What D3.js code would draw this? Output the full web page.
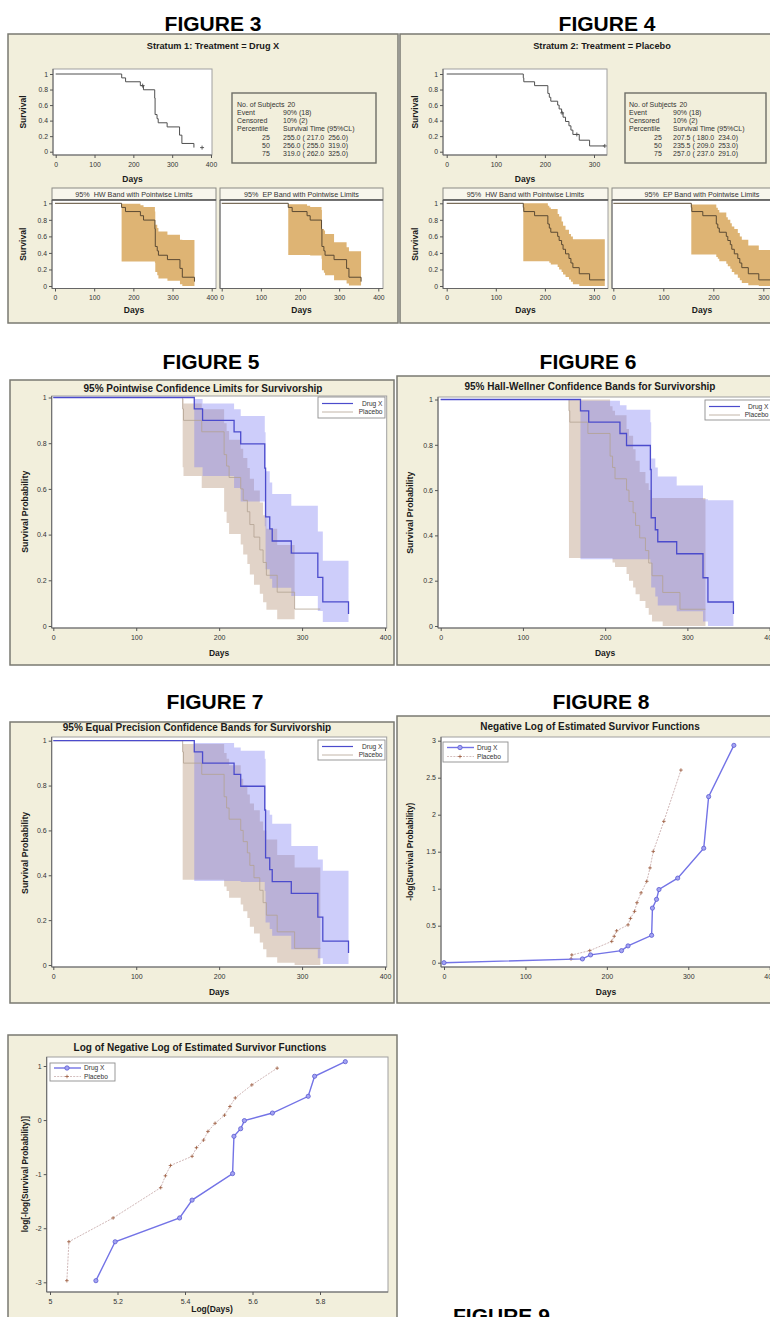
<!DOCTYPE html>
<html><head><meta charset="utf-8"><title>Survival figures</title>
<script src="https://cdn.jsdelivr.net/npm/d3@7/dist/d3.min.js"></script>
<style>html,body{margin:0;padding:0;background:#fff;overflow:hidden}svg{display:block}</style>
</head><body>
<svg id="chart" width="770" height="1317" viewBox="0 0 770 1317"></svg>
<script>
// ================= DATA =================
const daysTicks400 = [0, 100, 200, 300, 400];
const daysTicks300 = [0, 100, 200, 300];
const survTicks = [0, 0.2, 0.4, 0.6, 0.8, 1];
const negLogTicks = [0, 0.5, 1, 1.5, 2, 2.5, 3];
const logDaysTicks = [5, 5.2, 5.4, 5.6, 5.8];
const logNegLogTicks = [-3, -2, -1, 0, 1];
const groups = ["Drug X", "Placebo"];

// Kaplan-Meier estimates
const drugTimes = [0, 170, 180, 218, 226, 255, 256, 261, 264, 287, 319, 325, 356];
const drugSurv  = [1, 0.95, 0.90, 0.85, 0.797, 0.691, 0.478, 0.425, 0.372, 0.319, 0.213, 0.106, 0.053];
const drugCensored = [[224, 0.85], [377, 0.053]];
const placTimes = [0, 156, 157, 179, 206, 209, 212, 226, 229, 234, 237, 242, 249, 253, 257, 270, 291, 322];
const placSurv  = [1, 0.95, 0.90, 0.85, 0.75, 0.70, 0.65, 0.60, 0.55, 0.50, 0.444, 0.389, 0.333, 0.278, 0.222, 0.148, 0.074, 0.074];
const placCensored = [[235, 0.50], [265, 0.222], [322, 0.074]];

// confidence limits: [day, lower, upper] (step after; last row closes the band)
const drugPointwise = [[170,0.695,0.993],[180,0.656,0.974],[218,0.604,0.949],[226,0.545,0.919],[255,0.436,0.848],[256,0.248,0.677],[261,0.207,0.628],[264,0.167,0.578],[287,0.131,0.526],[319,0.066,0.414],[325,0.018,0.286],[356,0.018,0.286]];
const placPointwise = [[156,0.695,0.993],[157,0.656,0.974],[179,0.604,0.949],[206,0.500,0.887],[209,0.451,0.853],[212,0.403,0.815],[226,0.357,0.776],[229,0.313,0.735],[234,0.271,0.692],[237,0.225,0.644],[242,0.181,0.593],[249,0.141,0.540],[253,0.104,0.485],[257,0.071,0.426],[270,0.030,0.355],[291,0.030,0.355]];
const drugHallWellner = [[170,0.295,0.995],[218,0.295,0.975],[226,0.295,0.955],[255,0.28,0.90],[256,0.17,0.74],[261,0.13,0.70],[264,0.09,0.66],[287,0.065,0.62],[319,0.02,0.56],[325,0,0.555],[356,0,0.555]];
const placHallWellner = [[156,0.30,1.0],[206,0.30,0.97],[209,0.28,0.95],[212,0.26,0.93],[226,0.23,0.87],[229,0.20,0.84],[234,0.17,0.78],[237,0.14,0.73],[242,0.11,0.68],[249,0.08,0.63],[253,0.05,0.60],[257,0.02,0.565],[270,0,0.565],[322,0,0.565]];
const drugEqualPrec = [[170,0.375,0.99],[218,0.375,0.97],[226,0.37,0.955],[255,0.33,0.92],[256,0.19,0.69],[261,0.16,0.67],[264,0.13,0.63],[287,0.07,0.53],[319,0.03,0.47],[325,0.005,0.42],[356,0.005,0.42]];
const placEqualPrec = [[156,0.38,0.985],[206,0.35,0.945],[209,0.33,0.92],[212,0.30,0.89],[226,0.27,0.83],[229,0.24,0.80],[234,0.21,0.76],[237,0.17,0.72],[242,0.14,0.69],[249,0.10,0.64],[253,0.07,0.60],[257,0.035,0.56],[270,0.01,0.49],[291,0,0.435],[322,0,0.435]];

// -log S(t)
const drugNegLog = [0, 0.051, 0.105, 0.163, 0.227, 0.370, 0.738, 0.856, 0.989, 1.143, 1.547, 2.244, 2.937];
const placNegLogDays = [156, 157, 179, 206, 209, 212, 226, 229, 234, 237, 242, 249, 253, 257, 270, 291];
const placNegLog = [0.051, 0.105, 0.163, 0.288, 0.357, 0.431, 0.511, 0.598, 0.693, 0.811, 0.944, 1.099, 1.281, 1.504, 1.910, 2.603];

// log(-log S(t)) vs log(t)
const drugLogDays = [5.136, 5.193, 5.384, 5.421, 5.541, 5.545, 5.565, 5.576, 5.659, 5.765, 5.784, 5.875];
const drugLogNegLog = [-2.97, -2.25, -1.81, -1.48, -0.99, -0.30, -0.16, -0.01, 0.13, 0.44, 0.81, 1.08];
const placLogDays = [5.050, 5.056, 5.187, 5.328, 5.342, 5.357, 5.421, 5.434, 5.455, 5.468, 5.489, 5.517, 5.533, 5.549, 5.598, 5.673];
const placLogNegLog = [-2.97, -2.25, -1.81, -1.25, -1.03, -0.84, -0.67, -0.51, -0.37, -0.21, -0.06, 0.09, 0.25, 0.41, 0.65, 0.96];

// summary tables
const stratum1Stats = [["No. of Subjects", "20"], ["Event", "90% (18)"], ["Censored", "10% (2)"], ["Percentile", "Survival Time (95%CL)"], ["25", "255.0 ( 217.0  256.0)"], ["50", "256.0 ( 255.0  319.0)"], ["75", "319.0 ( 262.0  325.0)"]];
const stratum2Stats = [["No. of Subjects", "20"], ["Event", "90% (18)"], ["Censored", "10% (2)"], ["Percentile", "Survival Time (95%CL)"], ["25", "207.5 ( 180.0  234.0)"], ["50", "235.5 ( 209.0  253.0)"], ["75", "257.0 ( 237.0  291.0)"]];

// ================= RENDER =================
const svg = d3.select('#chart');
const FONT = '"Liberation Sans", Arial, Helvetica, sans-serif';
const BG = '#f2efdc';
const fmt = d => String(d);

function T(g, x, y, s, size, o = {}) {
  const t = g.append('text').attr('x', x).attr('y', y).text(s)
    .attr('font-family', FONT).attr('font-size', size)
    .attr('font-weight', o.bold ? 'bold' : 'normal')
    .attr('text-anchor', o.anchor || 'middle')
    .attr('fill', o.fill || '#1a1a1a');
  if (o.rotate) t.attr('transform', `rotate(-90 ${x} ${y})`);
  if (o.pre) t.style('white-space', 'pre');
  return t;
}
function panel(p) {
  svg.append('rect').attr('x', p[0]).attr('y', p[1]).attr('width', p[2]).attr('height', p[3])
    .attr('fill', BG).attr('stroke', '#7a7a72').attr('stroke-width', 1.5);
}
function frame(g, b) {
  g.append('rect').attr('x', b.x0).attr('y', b.y0).attr('width', b.x1 - b.x0).attr('height', b.y1 - b.y0)
    .attr('fill', '#fff').attr('stroke', '#a0a0a0').attr('stroke-width', 1);
  g.append('path').attr('d', `M${b.x0},${b.y0}V${b.y1}H${b.x1}`).attr('fill', 'none').attr('stroke', '#666').attr('stroke-width', 1);
}
function styleAxis(ga, size) {
  ga.attr('font-family', FONT).attr('font-size', size || 7);
  ga.select('.domain').remove();
  ga.selectAll('.tick line').attr('stroke', '#555');
  ga.selectAll('.tick text').attr('fill', '#333');
}
function axisX(g, xs, y, ticks, size) {
  const a = d3.axisBottom(xs).tickValues(ticks).tickSizeInner(3).tickSizeOuter(0).tickPadding(4).tickFormat(fmt);
  styleAxis(g.append('g').attr('transform', `translate(0,${y})`).call(a), size);
}
function axisY(g, ys, x, ticks, size) {
  const a = d3.axisLeft(ys).tickValues(ticks).tickSizeInner(3).tickSizeOuter(0).tickPadding(2).tickFormat(fmt);
  styleAxis(g.append('g').attr('transform', `translate(${x},0)`).call(a), size);
}
function kmLine(g, xs, ys, times, vals, color, w) {
  const pts = times.map((t, i) => [t, vals[i]]);
  g.append('path').datum(pts)
    .attr('d', d3.line().x(d => xs(d[0])).y(d => ys(d[1])).curve(d3.curveStepAfter))
    .attr('fill', 'none').attr('stroke', color).attr('stroke-width', w);
}
function bandArea(g, xs, ys, rows, fill, op) {
  g.append('path').datum(rows)
    .attr('d', d3.area().x(d => xs(d[0])).y0(d => ys(d[1])).y1(d => ys(d[2])).curve(d3.curveStepAfter))
    .attr('fill', fill).attr('fill-opacity', op);
}
function plusMarks(g, pts, color, s, w) {
  pts.forEach(p => {
    g.append('path').attr('d', `M${p[0] - s},${p[1]}H${p[0] + s}M${p[0]},${p[1] - s}V${p[1] + s}`)
      .attr('stroke', color).attr('stroke-width', w || 0.9).attr('fill', 'none');
  });
}
function polyLine(g, pts, color, w, dash) {
  const p = g.append('path').datum(pts).attr('d', d3.line().x(d => d[0]).y(d => d[1]))
    .attr('fill', 'none').attr('stroke', color).attr('stroke-width', w);
  if (dash) p.attr('stroke-dasharray', dash);
}

// ---------- Figures 3 & 4 ----------
function strataFigure(c, times, surv, cens, hw, ep, stats) {
  panel(c.panel);
  T(svg, c.label[0], c.label[1], c.labelText, 21, { bold: true, fill: '#000' });
  T(svg, c.sub[0], c.sub[1], c.subText, 9.2, { bold: true });
  const tp = c.top;
  const xs = d3.scaleLinear().domain(c.xDomain).range(tp.xr);
  const ys = d3.scaleLinear().domain([0, 1]).range(tp.yr);
  frame(svg, tp);
  axisX(svg, xs, tp.y1, c.xTicks, 6.8);
  axisY(svg, ys, tp.x0, survTicks, 6.8);
  kmLine(svg, xs, ys, times, surv, '#505050', 1);
  plusMarks(svg, cens.map(p => [xs(p[0]), ys(p[1])]), '#505050', 2, 0.9);
  T(svg, (tp.x0 + tp.x1) / 2, c.topDaysY, 'Days', 8.5, { bold: true });
  T(svg, c.ylabX, (tp.y0 + tp.y1) / 2, 'Survival', 8.5, { bold: true, rotate: true });
  // inset table
  const ib = c.inset;
  svg.append('rect').attr('x', ib.x0).attr('y', ib.y0).attr('width', ib.x1 - ib.x0).attr('height', ib.y1 - ib.y0)
    .attr('fill', BG).attr('stroke', '#6e6e66').attr('stroke-width', 1.4);
  stats.forEach((r, i) => {
    const y = ib.row0 + i * ib.dy;
    let lab;
    if (i < 4) lab = T(svg, ib.c1, y, r[0], 7, { anchor: 'start', fill: '#333' });
    else lab = T(svg, ib.cn, y, r[0], 7, { anchor: 'middle', fill: '#333' });
    let vx = ib.c2;
    if (i === 0) vx = ib.c1 + lab.node().getComputedTextLength() + 3;
    T(svg, vx, y, r[1], 7, { anchor: 'start', fill: '#333', pre: true });
  });
  // lower cells
  const cellBands = [hw, ep];
  const heads = ['95%  HW Band with Pointwise Limits', '95%  EP Band with Pointwise Limits'];
  c.cells.forEach((cell, i) => {
    svg.append('rect').attr('x', cell.x0).attr('y', c.headY0).attr('width', cell.x1 - cell.x0).attr('height', c.plotY0 - c.headY0)
      .attr('fill', '#f8f6ec').attr('stroke', '#8a8a84').attr('stroke-width', 1);
    T(svg, (cell.x0 + cell.x1) / 2, c.plotY0 - 3, heads[i], 7.2, { fill: '#333', pre: true });
    const b = { x0: cell.x0, x1: cell.x1, y0: c.plotY0, y1: c.plotY1 };
    frame(svg, b);
    svg.append('line').attr('x1', cell.x0).attr('x2', cell.x1).attr('y1', c.plotY0).attr('y2', c.plotY0)
      .attr('stroke', '#555').attr('stroke-width', 1.6);
    const xs2 = d3.scaleLinear().domain(c.xDomain).range(cell.xr);
    const ys2 = d3.scaleLinear().domain([0, 1]).range(c.cellYr);
    bandArea(svg, xs2, ys2, cellBands[i], '#deb474', 1);
    kmLine(svg, xs2, ys2, times, surv, '#5b4a33', 1);
    axisX(svg, xs2, c.plotY1, c.xTicks, 6.8);
    if (i === 0) axisY(svg, ys2, cell.x0, survTicks, 6.8);
    T(svg, (cell.x0 + cell.x1) / 2, c.botDaysY, 'Days', 8.5, { bold: true });
  });
  T(svg, c.ylabX, (c.plotY0 + c.plotY1) / 2, 'Survival', 8.5, { bold: true, rotate: true });
}

strataFigure({
  panel: [8, 34, 390, 289], label: [213, 31], labelText: 'FIGURE 3',
  sub: [213, 48.5], subText: 'Stratum 1: Treatment = Drug X',
  xDomain: [0, 400], xTicks: daysTicks400,
  top: { x0: 53, x1: 212, y0: 69, y1: 155, xr: [55.7, 211], yr: [151.7, 74] },
  topDaysY: 182, ylabX: 26,
  inset: { x0: 232, x1: 376, y0: 93, y1: 163, c1: 237, cn: 266, c2: 283, row0: 106.5, dy: 8.3 },
  headY0: 188, plotY0: 200, plotY1: 288.5, cellYr: [286, 203.3], botDaysY: 313,
  cells: [{ x0: 52, x1: 216, xr: [55, 211.7] }, { x0: 220, x1: 383, xr: [221.7, 378.3] }]
}, drugTimes, drugSurv, drugCensored, drugHallWellner, drugEqualPrec, stratum1Stats);

strataFigure({
  panel: [400, 34, 392, 289], label: [607, 31], labelText: 'FIGURE 4',
  sub: [602, 48.5], subText: 'Stratum 2: Treatment = Placebo',
  xDomain: [0, 300], xTicks: daysTicks300,
  top: { x0: 443, x1: 607, y0: 69, y1: 155, xr: [446.7, 594], yr: [151.7, 74] },
  topDaysY: 182, ylabX: 418,
  inset: { x0: 625, x1: 766, y0: 93, y1: 163, c1: 629, cn: 658, c2: 673, row0: 106.5, dy: 8.3 },
  headY0: 188, plotY0: 200, plotY1: 288.5, cellYr: [286, 203.3], botDaysY: 313,
  cells: [{ x0: 443, x1: 608, xr: [446.7, 594] }, { x0: 612, x1: 792, xr: [613.3, 763.3] }]
}, placTimes, placSurv, placCensored, placHallWellner, placEqualPrec, stratum2Stats);

// ---------- Figures 5, 6, 7 ----------
const DRUG_BAND = '#7474f0', PLAC_BAND = '#ab8466', BAND_OP = 0.36;
const DRUG_LINE = '#4b4bcc', PLAC_LINE = '#b3a292';

function legendBox(g, L, entries) {
  g.append('rect').attr('x', L.x0).attr('y', L.y0).attr('width', L.x1 - L.x0).attr('height', L.y1 - L.y0)
    .attr('fill', '#fff').attr('stroke', '#8e8e8e').attr('stroke-width', 0.9);
  entries.forEach((e, i) => {
    const y = L.y0 + 6.5 + i * 8.5;
    polyLine(g, [[L.x0 + 4, y], [L.x0 + 35, y]], e.color, e.w);
    T(g, L.x1 - 2.5, y + 2.3, e.name, 6.6, { anchor: 'end', fill: '#333' });
  });
}

function bandFigure(c, drugBand, placBand) {
  panel(c.panel);
  T(svg, c.label[0], c.label[1], c.labelText, 21, { bold: true, fill: '#000' });
  T(svg, c.title[0], c.title[1], c.titleText, 10, { bold: true });
  const b = c.box;
  frame(svg, b);
  const xs = d3.scaleLinear().domain([0, 400]).range(c.xr);
  const ys = d3.scaleLinear().domain([0, 1]).range(c.yr);
  const g = svg.append('g');
  bandArea(g, xs, ys, placBand, PLAC_BAND, BAND_OP);
  bandArea(g, xs, ys, drugBand, DRUG_BAND, BAND_OP);
  kmLine(g, xs, ys, placTimes, placSurv, PLAC_LINE, 0.8);
  kmLine(g, xs, ys, drugTimes, drugSurv, DRUG_LINE, 1.3);
  axisX(svg, xs, b.y1, daysTicks400, 7);
  axisY(svg, ys, b.x0, survTicks, 7);
  T(svg, (c.xr[0] + c.xr[1]) / 2, c.daysY, 'Days', 8.5, { bold: true });
  T(svg, c.ylabX, (c.yr[0] + c.yr[1]) / 2, 'Survival Probability', 8.8, { bold: true, rotate: true });
  legendBox(svg, c.legend, [{ name: groups[0], color: DRUG_LINE, w: 1.2 }, { name: groups[1], color: PLAC_LINE, w: 0.8 }]);
}

bandFigure({
  panel: [10, 380, 384, 285], label: [211, 369], labelText: 'FIGURE 5',
  title: [203, 391.5], titleText: '95% Pointwise Confidence Limits for Survivorship',
  box: { x0: 51.7, x1: 386.7, y0: 396, y1: 628 }, xr: [53.3, 385], yr: [626, 397.5],
  daysY: 656, ylabX: 28, legend: { x0: 318, x1: 385, y0: 397, y1: 418 }
}, drugPointwise, placPointwise);

bandFigure({
  panel: [397, 376, 385, 289], label: [588, 369], labelText: 'FIGURE 6',
  title: [590, 390], titleText: '95% Hall-Wellner Confidence Bands for Survivorship',
  box: { x0: 438, x1: 776, y0: 397, y1: 628 }, xr: [440.7, 769.6], yr: [626, 399.5],
  daysY: 656, ylabX: 413, legend: { x0: 705, x1: 771, y0: 400, y1: 420 }
}, drugHallWellner, placHallWellner);

bandFigure({
  panel: [10, 722, 384, 281], label: [215, 709], labelText: 'FIGURE 7',
  title: [197, 731], titleText: '95% Equal Precision Confidence Bands for Survivorship',
  box: { x0: 51.7, x1: 386.7, y0: 737, y1: 967 }, xr: [53.3, 385], yr: [965, 740.7],
  daysY: 995, ylabX: 28, legend: { x0: 318, x1: 385, y0: 740, y1: 760 }
}, drugEqualPrec, placEqualPrec);

// ---------- Figures 8 & 9 ----------
const DRUG_PT_LINE = '#7373e6', PLAC_PT_LINE = '#c9aeae', PLAC_MARK = '#9c5a3c', PLAC_DASH = '2,1.2';

function markerLegend(g, L) {
  g.append('rect').attr('x', L.x0).attr('y', L.y0).attr('width', L.x1 - L.x0).attr('height', L.y1 - L.y0)
    .attr('fill', '#fff').attr('stroke', '#8e8e8e').attr('stroke-width', 0.9);
  const y1 = L.y0 + L.dy0, y2 = y1 + L.dy;
  const mx = L.x0 + 17;
  polyLine(g, [[L.x0 + 4, y1], [L.x0 + 31, y1]], DRUG_PT_LINE, 1.4);
  g.append('circle').attr('cx', mx).attr('cy', y1).attr('r', 2.2).attr('fill', '#a4a4f2').attr('stroke', '#5a5ad0').attr('stroke-width', 0.8);
  polyLine(g, [[L.x0 + 4, y2], [L.x0 + 31, y2]], PLAC_PT_LINE, 0.8, PLAC_DASH);
  plusMarks(g, [[mx, y2]], PLAC_MARK, 1.8, 0.8);
  T(g, L.x0 + 34, y1 + 2.3, groups[0], 6.6, { anchor: 'start', fill: '#333' });
  T(g, L.x0 + 34, y2 + 2.3, groups[1], 6.6, { anchor: 'start', fill: '#333' });
}

function pointFigure(c, drugPts, placPts) {
  panel(c.panel);
  if (c.labelText) T(svg, c.label[0], c.label[1], c.labelText, 21, { bold: true, fill: '#000', anchor: c.labelAnchor || 'middle' });
  T(svg, c.title[0], c.title[1], c.titleText, 10, { bold: true });
  frame(svg, c.box);
  const xs = d3.scaleLinear().domain(c.xDomain).range(c.xr);
  const ys = d3.scaleLinear().domain(c.yDomain).range(c.yr);
  const pd = drugPts.map(p => [xs(p[0]), ys(p[1])]);
  const pp = placPts.map(p => [xs(p[0]), ys(p[1])]);
  polyLine(svg, pp, PLAC_PT_LINE, 0.9, PLAC_DASH);
  plusMarks(svg, pp, PLAC_MARK, 1.8, 0.8);
  polyLine(svg, pd, DRUG_PT_LINE, 1.4);
  svg.append('g').selectAll('circle').data(pd).join('circle')
    .attr('cx', d => d[0]).attr('cy', d => d[1]).attr('r', 2.1)
    .attr('fill', '#a4a4f2').attr('stroke', '#5a5ad0').attr('stroke-width', 0.8);
  axisX(svg, xs, c.box.y1, c.xTicks, 7);
  axisY(svg, ys, c.box.x0, c.yTicks, 7);
  T(svg, c.xlab[0], c.xlab[1], c.xlabText, 8.5, { bold: true });
  T(svg, c.ylabX, (c.yr[0] + c.yr[1]) / 2, c.ylabText, 8.3, { bold: true, rotate: true });
  markerLegend(svg, c.legend);
}

pointFigure({
  panel: [397, 716, 385, 287], label: [601, 709], labelText: 'FIGURE 8',
  title: [590, 730], titleText: 'Negative Log of Estimated Survivor Functions',
  box: { x0: 441, x1: 776, y0: 737, y1: 967 },
  xDomain: [0, 400], xr: [444, 769.7], yDomain: [0, 3], yr: [962.7, 740.7],
  xTicks: daysTicks400, yTicks: negLogTicks,
  xlab: [606, 995], xlabText: 'Days', ylabX: 413, ylabText: '-log(Survival Probability)',
  legend: { x0: 443, x1: 508, y0: 742, y1: 762, dy0: 5.5, dy: 9 }
}, drugTimes.map((t, i) => [t, drugNegLog[i]]), placNegLogDays.map((t, i) => [t, placNegLog[i]]));

pointFigure({
  panel: [8, 1035, 389, 300], labelText: null,
  title: [200, 1050.5], titleText: 'Log of Negative Log of Estimated Survivor Functions',
  box: { x0: 46.7, x1: 388, y0: 1057, y1: 1292 },
  xDomain: [5, 6], xr: [50, 387.5], yDomain: [-3, 1], yr: [1282.3, 1066],
  xTicks: logDaysTicks, yTicks: logNegLogTicks,
  xlab: [212, 1312], xlabText: 'Log(Days)', ylabX: 28, ylabText: 'log[-log(Survival Probability)]',
  legend: { x0: 50, x1: 115, y0: 1063, y1: 1081, dy0: 5, dy: 8.5 }
}, drugLogDays.map((t, i) => [t, drugLogNegLog[i]]), placLogDays.map((t, i) => [t, placLogNegLog[i]]));

T(svg, 453, 1323, 'FIGURE 9', 21, { bold: true, fill: '#000', anchor: 'start' });
</script>
</body></html>
